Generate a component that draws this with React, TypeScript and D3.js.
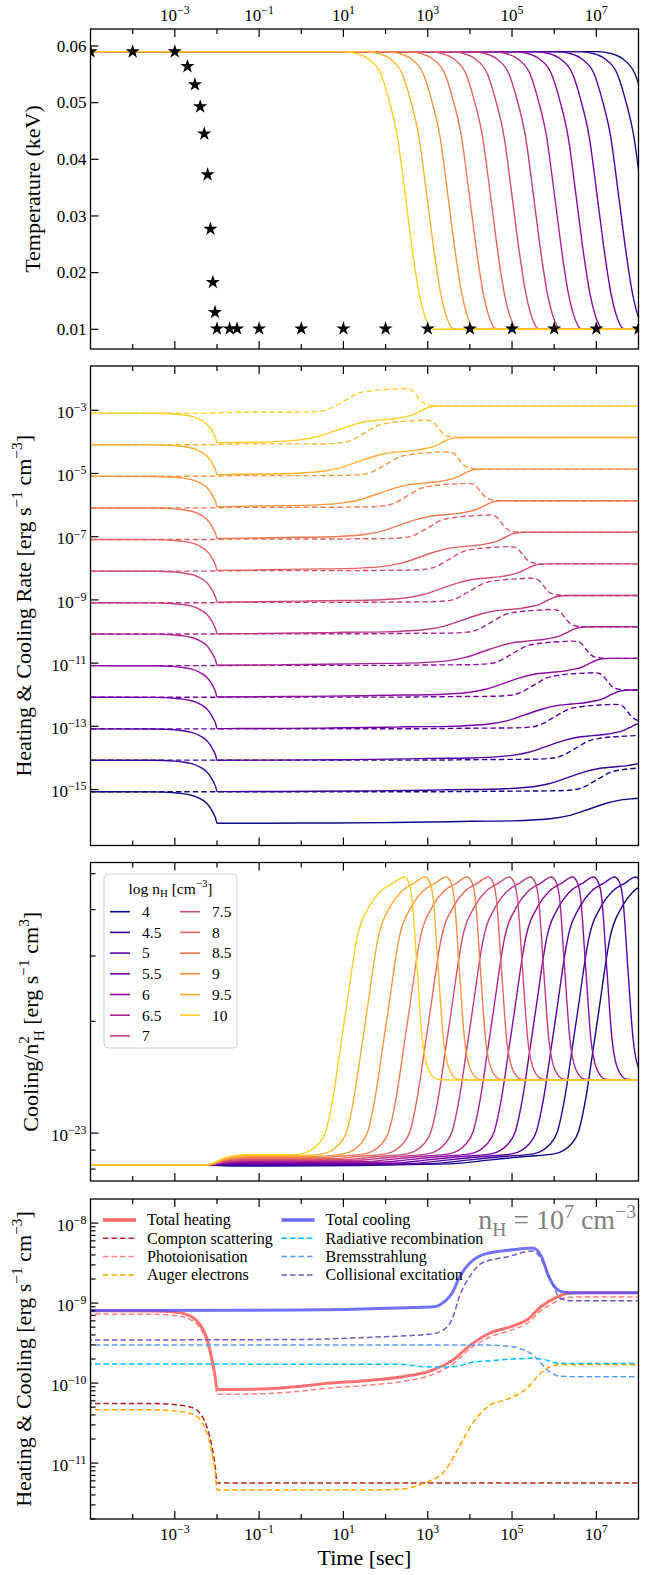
import React from "react";
import * as d3 from "d3";

type Pt = [number, number];

// ---------------- data ----------------
const logNH = [4, 4.5, 5, 5.5, 6, 6.5, 7, 7.5, 8, 8.5, 9, 9.5, 10];
const logNHLabels = ["4", "4.5", "5", "5.5", "6", "6.5", "7", "7.5", "8", "8.5", "9", "9.5", "10"];

// Panel 1: temperature (keV) vs log10 time; curve shape read from the n=10 curve, shifts per density
const tempShift = [6.03, 5.61, 5.06, 4.55, 4.05, 3.54, 3.04, 2.53, 2.02, 1.52, 1.01, 0.51, 0];
const tempTemplate: Pt[] = [
  [-9, 0.059], [1.0, 0.059], [1.3, 0.0587], [1.6, 0.0577], [1.88, 0.0552], [2.08, 0.0505],
  [2.28, 0.044], [2.47, 0.0335], [2.67, 0.0222], [2.8, 0.0162], [2.91, 0.0128], [3.0, 0.011],
  [3.07, 0.0102], [3.2, 0.01], [14, 0.01],
];
const starTime = [1e-5, 1e-4, 1e-3, 2e-3, 3e-3, 4e-3, 5e-3, 6e-3, 7e-3, 8e-3, 9e-3, 1e-2, 2e-2, 3e-2, 1e-1, 1, 10, 100, 1e3, 1e4, 1e5, 1e6, 1e7, 1e8];
const starTemp = [0.059, 0.059, 0.059, 0.0564, 0.0532, 0.0493, 0.0445, 0.0373, 0.0277, 0.0183, 0.013, 0.0101, 0.0101, 0.0101, 0.0101, 0.0101, 0.0101, 0.0101, 0.0101, 0.0101, 0.0101, 0.0101, 0.0101, 0.0101];
const tempTicks = [0.01, 0.02, 0.03, 0.04, 0.05, 0.06];

// Panel 2: heating (solid) & cooling (dashed) rates, log10 values
const rateShift = [6, 5.5, 5, 4.5, 4, 3.5, 3, 2.5, 2, 1.5, 1, 0.5, 0];
const rate0 = [-15.07, -14.07, -13.08, -12.08, -11.08, -10.08, -9.09, -8.09, -7.09, -6.09, -5.09, -4.09, -3.09];
const heatDropShape: Pt[] = [
  [-5.5, 0], [-3.5, -0.004], [-3, -0.03], [-2.8, -0.06], [-2.6, -0.11], [-2.4, -0.22],
  [-2.25, -0.36], [-2.15, -0.53], [-2.08, -0.7], [-2.03, -0.85], [-2, -1],
];
const heatPost: Pt[] = [
  [-9, -1.0], [-6, -0.99], [-4, -0.975], [-2.5, -0.95], [-2, -0.935], [-1, -0.92], [0, -0.84],
  [0.4, -0.74], [0.8, -0.56], [1.2, -0.38], [1.5, -0.28], [1.9, -0.215], [2.2, -0.18], [2.45, -0.12],
  [2.65, -0.05], [2.85, 0.08], [3.0, 0.17], [3.15, 0.215], [3.3, 0.229], [14, 0.229],
];
const rateTickExp = [-15, -13, -11, -9, -7, -5, -3];

// Panel 3: cooling / nH^2, log10 values
const lamPre = -23.086;
const lamStep = [-23.089, -23.0865, -23.084, -23.081, -23.0785, -23.076, -23.0735, -23.071, -23.0685, -23.066, -23.063, -23.0605, -23.058];
const lamStepShape: Pt[] = [[-2.3, 0], [-2.1, 0.15], [-1.95, 0.45], [-1.8, 0.7], [-1.6, 0.88], [-1.3, 1]];
const lamPost: Pt[] = [
  [-9, -23.092], [-2.5, -23.083], [-1.5, -23.072], [-0.7, -23.063], [0, -23.056], [0.4, -23.03],
  [0.58, -22.995], [0.75, -22.906], [0.93, -22.77], [1.06, -22.67], [1.32, -22.476], [1.63, -22.386],
  [1.87, -22.35], [2.2, -22.325], [2.43, -22.31], [2.55, -22.325], [2.63, -22.37], [2.75, -22.56],
  [2.87, -22.745], [3.02, -22.83], [3.22, -22.855], [3.5, -22.857], [14, -22.857],
];

// Panel 4: nH = 1e7 breakdown, [log10 t, log10 rate]
const p4TotalHeating: Pt[] = [[-5.5, -9.094], [-3.5, -9.098], [-3, -9.11], [-2.6, -9.17], [-2.4, -9.27], [-2.25, -9.43], [-2.11, -9.73], [-2.04, -9.93], [-2, -10.08], [-1, -10.075], [0, -10.04], [0.5, -10.01], [1.5, -9.97], [2.4, -9.92], [3.1, -9.84], [3.6, -9.71], [4.0, -9.53], [4.45, -9.38], [5.0, -9.29], [5.35, -9.21], [5.7, -9.04], [6.05, -8.93], [6.3, -8.88], [6.6, -8.87], [8.5, -8.87]];
const p4Compton: Pt[] = [[-5.5, -10.254], [-3.5, -10.256], [-3, -10.27], [-2.6, -10.305], [-2.4, -10.38], [-2.25, -10.53], [-2.11, -10.82], [-2.04, -11.05], [-2, -11.25], [8.5, -11.25]];
const p4Photo: Pt[] = [[-5.5, -9.137], [-3.5, -9.141], [-3, -9.155], [-2.6, -9.215], [-2.4, -9.315], [-2.25, -9.475], [-2.11, -9.775], [-2.04, -9.975], [-2, -10.14], [-1, -10.135], [0, -10.1], [0.5, -10.07], [1.5, -10.03], [2.4, -9.98], [3.1, -9.895], [3.6, -9.76], [4.0, -9.575], [4.45, -9.43], [5.0, -9.335], [5.35, -9.255], [5.7, -9.09], [6.05, -8.98], [6.3, -8.93], [6.6, -8.925], [8.5, -8.925]];
const p4Auger: Pt[] = [[-5.5, -10.333], [-3.5, -10.335], [-3, -10.35], [-2.6, -10.385], [-2.4, -10.46], [-2.25, -10.61], [-2.11, -10.9], [-2.04, -11.13], [-2, -11.335], [1.8, -11.335], [2.4, -11.325], [2.9, -11.253], [3.4, -11.1], [3.7, -10.84], [4.02, -10.54], [4.46, -10.28], [4.9, -10.2], [5.34, -10.07], [5.7, -9.865], [6.05, -9.775], [6.4, -9.77], [8.5, -9.77]];
const p4TotalCooling: Pt[] = [[-5.5, -9.092], [0, -9.088], [2.25, -9.063], [3.2, -9.042], [3.4, -8.98], [3.58, -8.875], [3.75, -8.68], [3.93, -8.54], [4.28, -8.4], [4.9, -8.34], [5.48, -8.31], [5.6, -8.34], [5.7, -8.42], [5.87, -8.67], [6.0, -8.79], [6.14, -8.85], [6.4, -8.87], [8.5, -8.87]];
const p4RadRec: Pt[] = [[-5.5, -9.762], [2.3, -9.765], [2.9, -9.795], [3.3, -9.8], [3.7, -9.79], [4.0, -9.745], [4.5, -9.72], [5.5, -9.69], [5.8, -9.71], [6.05, -9.75], [6.5, -9.755], [8.5, -9.755]];
const p4Brems: Pt[] = [[-5.5, -9.525], [4.4, -9.525], [4.8, -9.535], [5.1, -9.555], [5.5, -9.65], [5.87, -9.85], [6.14, -9.915], [6.5, -9.92], [8.5, -9.92]];
const p4Collis: Pt[] = [[-5.5, -9.462], [0, -9.455], [1.5, -9.43], [3.1, -9.385], [3.4, -9.325], [3.58, -9.2], [3.75, -8.92], [4.02, -8.65], [4.28, -8.5], [4.9, -8.42], [5.48, -8.35], [5.6, -8.38], [5.7, -8.46], [5.92, -8.71], [6.14, -8.94], [6.4, -8.97], [8.5, -8.97]];
const p4Labels = ["Total heating", "Compton scattering", "Photoionisation", "Auger electrons", "Total cooling", "Radiative recombination", "Bremsstrahlung", "Collisional excitation"];
const p4Colors = ["#ff4d4d", "#b22222", "#ff8080", "#ffa500", "#5050ff", "#00bfff", "#5b9bf0", "#6a5acd"];

// ---------------- layout ----------------
const W = 665, H = 1575;
const X0 = 90.5, X1 = 638.5;
const P1 = { top: 29, bot: 349 };
const P2 = { top: 366, bot: 845.5 };
const P3 = { top: 862.5, bot: 1181 };
const P4 = { top: 1199, bot: 1519 };
const FONT = '"Liberation Serif", "DejaVu Serif", "Times New Roman", serif';
const TICK_FS = 17;
const LABEL_FS = 22;

const xS = d3.scaleLog().domain([1e-5, 1e8]).range([X0, X1]);
const y1 = d3.scaleLinear().domain([0.00652, 0.063]).range([P1.bot, P1.top]);
const y2 = d3.scaleLog().domain([Math.pow(10, -16.77), Math.pow(10, -1.6)]).range([P2.bot, P2.top]);
const y3 = d3.scaleLog().domain([Math.pow(10, -23.129), Math.pow(10, -22.271)]).range([P3.bot, P3.top]);
const y4 = d3.scaleLog().domain([2e-12, 2e-8]).range([P4.bot, P4.top]);

const colors = logNH.map((_, i) => d3.interpolatePlasma(i * 0.075));

function interp(tpl: Pt[], xv: number): number {
  if (xv <= tpl[0][0]) return tpl[0][1];
  for (let i = 1; i < tpl.length; i++) {
    if (xv <= tpl[i][0]) {
      const [xa, ya] = tpl[i - 1];
      const [xb, yb] = tpl[i];
      return ya + ((yb - ya) * (xv - xa)) / (xb - xa);
    }
  }
  return tpl[tpl.length - 1][1];
}

function heatNodes(i: number): Pt[] {
  const s = rateShift[i];
  const endRel = interp(heatPost, -2 - s);
  const nodes: Pt[] = heatDropShape.map(([t, r]) => [t, rate0[i] + r * -endRel] as Pt);
  for (const [tau, r] of heatPost) if (tau + s > -2) nodes.push([tau + s, rate0[i] + r]);
  return nodes;
}

function lamNodes(i: number): Pt[] {
  const s = rateShift[i];
  const post = lamStep[i];
  const nodes: Pt[] = [[-6, lamPre]];
  for (const [t, f] of lamStepShape) nodes.push([t, lamPre + (post - lamPre) * f]);
  const tEnd = lamStepShape[lamStepShape.length - 1][0];
  let prev: Pt | null = null;
  let crossed = false;
  for (const [tau, v] of lamPost) {
    const t = tau + s;
    if (!crossed) {
      if (v > post) {
        crossed = true;
        if (prev) {
          const tc = prev[0] + ((post - prev[1]) / (v - prev[1])) * (t - prev[0]);
          if (tc > tEnd) nodes.push([tc, post]);
        }
        if (t > tEnd) nodes.push([t, v]);
      }
      prev = [t, v];
    } else if (t > tEnd) nodes.push([t, v]);
  }
  return nodes;
}

const linLine = (ys: (v: number) => number) =>
  d3.line<Pt>().x((d) => xS(Math.pow(10, d[0]))).y((d) => ys(d[1])).curve(d3.curveMonotoneX);
const logLine = (ys: d3.ScaleLogarithmic<number, number>) =>
  d3.line<Pt>().x((d) => xS(Math.pow(10, d[0]))).y((d) => ys(Math.pow(10, d[1]))).curve(d3.curveMonotoneX);

// ---------------- text helpers ----------------
type Seg = { t: string; k?: "sup" | "sub"; dx?: number };
function mathSpans(segs: Seg[], fs: number) {
  const off = (m: string) => (m === "sup" ? -0.4 * fs : m === "sub" ? 0.25 * fs : 0);
  let cur = "base";
  return segs.map((s, i) => {
    const target = s.k ?? "base";
    const dy = off(target) - off(cur);
    cur = target;
    return (
      <tspan key={i} dy={dy !== 0 ? dy : undefined} dx={s.dx} fontSize={target === "base" ? fs : fs * 0.7}>
        {s.t}
      </tspan>
    );
  });
}
const pow10 = (e: number): Seg[] => [{ t: "10" }, { t: e < 0 ? "\u2212" + Math.abs(e) : String(e), k: "sup" }];

function XTicks({ p }: { p: { top: number; bot: number } }) {
  const exps = d3.range(-4, 8);
  return (
    <g stroke="#000" strokeWidth={1.2}>
      {exps.map((e) => {
        const xx = xS(Math.pow(10, e));
        const len = e % 2 !== 0 ? 8 : 5;
        return (
          <g key={e}>
            <line x1={xx} x2={xx} y1={p.bot} y2={p.bot - len} />
            <line x1={xx} x2={xx} y1={p.top} y2={p.top + len} />
          </g>
        );
      })}
    </g>
  );
}

function XLabels({ y }: { y: number }) {
  const exps = [-3, -1, 1, 3, 5, 7];
  return (
    <g fontSize={TICK_FS}>
      {exps.map((e) => (
        <text key={e} x={xS(Math.pow(10, e))} y={y} textAnchor="middle">
          {mathSpans(pow10(e), TICK_FS)}
        </text>
      ))}
    </g>
  );
}

function Frame({ p }: { p: { top: number; bot: number } }) {
  return <rect x={X0} y={p.top} width={X1 - X0} height={p.bot - p.top} fill="none" stroke="#000" strokeWidth={1.3} />;
}

function YLabel({ cx, cy, segs }: { cx: number; cy: number; segs: Seg[] }) {
  return (
    <text transform={`translate(${cx},${cy}) rotate(-90)`} y={0.33 * LABEL_FS} textAnchor="middle" fontSize={LABEL_FS}>
      {mathSpans(segs, LABEL_FS)}
    </text>
  );
}

function YTick({ y, len, label, exp }: { y: number; len: number; label?: string; exp?: number }) {
  return (
    <g>
      <line x1={X0} x2={X0 + len} y1={y} y2={y} stroke="#000" strokeWidth={1.2} />
      {label !== undefined && (
        <text x={X0 - 4} y={y + 0.33 * TICK_FS} textAnchor="end" fontSize={TICK_FS}>
          {label}
        </text>
      )}
      {exp !== undefined && (
        <text x={X0 - 4} y={y + 0.45 * TICK_FS} textAnchor="end" fontSize={TICK_FS}>
          {mathSpans(pow10(exp), TICK_FS)}
        </text>
      )}
    </g>
  );
}

export default function App() {
  React.useEffect(() => {
    document.body.style.margin = "0";
  }, []);

  const star = d3.symbol(d3.symbolStar, 63)() as string;
  const l1 = linLine(y1);
  const l2 = logLine(y2);
  const l3 = logLine(y3);
  const l4 = logLine(y4);

  const p4Series = [p4TotalHeating, p4Compton, p4Photo, p4Auger, p4TotalCooling, p4RadRec, p4Brems, p4Collis];

  const p4Minor: number[] = [];
  for (let m = -12; m <= -9; m++) for (let k = 2; k <= 9; k++) {
    const v = k * Math.pow(10, m);
    if (v >= 2e-12 && v <= 2e-8) p4Minor.push(v);
  }
  const p3Minor = [8e-24, 9e-24, 2e-23, 3e-23, 4e-23, 5e-23];

  return (
    <svg width={W} height={H} style={{ display: "block", position: "absolute", left: 0, top: 0, fontFamily: FONT }}>
      <style>{`text, tspan { font-family: ${FONT}; }`}</style>
      <rect width={W} height={H} fill="#fff" />
      <defs>
        {[P1, P2, P3, P4].map((p, i) => (
          <clipPath id={`clip${i}`} key={i}>
            <rect x={X0} y={p.top} width={X1 - X0} height={p.bot - p.top} />
          </clipPath>
        ))}
      </defs>

      {/* ---------- Panel 1 ---------- */}
      <g clipPath="url(#clip0)">
        {logNH.map((_, i) => (
          <path key={i} d={l1(tempTemplate.map(([t, v]) => [t + tempShift[i], v] as Pt)) as string} fill="none" stroke={colors[i]} strokeWidth={1.4} />
        ))}
        {starTime.map((t, i) => (
          <path key={i} d={star} transform={`translate(${xS(t)},${y1(starTemp[i])})`} fill="#000" />
        ))}
      </g>
      <XTicks p={P1} />
      {tempTicks.map((v) => (
        <YTick key={v} y={y1(v)} len={8} label={v.toFixed(2)} />
      ))}
      <Frame p={P1} />
      <XLabels y={20.5} />
      <YLabel cx={33} cy={(P1.top + P1.bot) / 2} segs={[{ t: "Temperature (keV)" }]} />

      {/* ---------- Panel 2 ---------- */}
      <g clipPath="url(#clip1)">
        {logNH.map((_, i) => (
          <g key={i} stroke={colors[i]} fill="none" strokeWidth={1.4}>
            <path d={l2(heatNodes(i)) as string} />
            <path d={l2(lamNodes(i).map(([t, v]) => [t, rate0[i] + v - lamPre] as Pt)) as string} strokeDasharray="5.5,3" />
          </g>
        ))}
      </g>
      <XTicks p={P2} />
      {rateTickExp.map((e) => (
        <YTick key={e} y={y2(Math.pow(10, e))} len={8} exp={e} />
      ))}
      <Frame p={P2} />
      <YLabel
        cx={24}
        cy={(P2.top + P2.bot) / 2}
        segs={[{ t: "Heating & Cooling Rate [erg s" }, { t: "\u22121", k: "sup" }, { t: " cm" }, { t: "\u22123", k: "sup" }, { t: "]" }]}
      />

      {/* ---------- Panel 3 ---------- */}
      <g clipPath="url(#clip2)">
        {logNH.map((_, i) => (
          <path key={i} d={l3(lamNodes(i)) as string} fill="none" stroke={colors[i]} strokeWidth={1.4} />
        ))}
      </g>
      <XTicks p={P3} />
      <YTick y={y3(1e-23)} len={8} exp={-23} />
      {p3Minor.map((v) => (
        <YTick key={v} y={y3(v)} len={5} />
      ))}
      <Frame p={P3} />
      <YLabel
        cx={31}
        cy={(P3.top + P3.bot) / 2}
        segs={[{ t: "Cooling/n" }, { t: "2", k: "sup" }, { t: "H", k: "sub", dx: -0.35 * LABEL_FS * 0.7 }, { t: "  [erg s" }, { t: "\u22121", k: "sup" }, { t: " cm" }, { t: "3", k: "sup" }, { t: "]" }]}
      />
      <g>
        <rect x={104} y={874} width={133} height={174} rx={4} fill="#fff" fillOpacity={0.85} stroke="#d0d0d0" strokeWidth={1} />
        <text x={170.5} y={893.5} textAnchor="middle" fontSize={15.5}>
          {mathSpans([{ t: "log n" }, { t: "H", k: "sub" }, { t: " [cm" }, { t: "\u22123", k: "sup" }, { t: "]" }], 15.5)}
        </text>
        {logNH.map((_, i) => {
          const col = i < 7 ? 0 : 1;
          const row = i < 7 ? i : i - 7;
          const yy = 911.7 + row * 20.7;
          const hx = col === 0 ? 110 : 180;
          return (
            <g key={i}>
              <line x1={hx} x2={hx + 20} y1={yy} y2={yy} stroke={colors[i]} strokeWidth={1.6} />
              <text x={hx + 32} y={yy + 5.3} fontSize={15.5}>
                {logNHLabels[i]}
              </text>
            </g>
          );
        })}
      </g>

      {/* ---------- Panel 4 ---------- */}
      <g clipPath="url(#clip3)">
        {p4Series.map((s, i) => {
          const total = i === 0 || i === 4;
          return (
            <path
              key={i}
              d={l4(s) as string}
              fill="none"
              stroke={p4Colors[i]}
              strokeWidth={total ? 3 : 1.5}
              strokeOpacity={total ? 0.8 : 1}
              strokeDasharray={total ? undefined : "5.5,3"}
            />
          );
        })}
      </g>
      <XTicks p={P4} />
      {[-8, -9, -10, -11].map((e) => (
        <YTick key={e} y={y4(Math.pow(10, e))} len={8} exp={e} />
      ))}
      {p4Minor.map((v) => (
        <YTick key={v} y={y4(v)} len={5} />
      ))}
      <Frame p={P4} />
      <XLabels y={1540} />
      <text x={(X0 + X1) / 2} y={1565} textAnchor="middle" fontSize={LABEL_FS}>
        Time [sec]
      </text>
      <YLabel
        cx={24}
        cy={(P4.top + P4.bot) / 2}
        segs={[{ t: "Heating & Cooling [erg s" }, { t: "\u22121", k: "sup" }, { t: " cm" }, { t: "\u22123", k: "sup" }, { t: "]" }]}
      />
      <g>
        {p4Labels.map((lab, i) => {
          const col = i < 4 ? 0 : 1;
          const row = i % 4;
          const yy = 1220 + row * 18.3;
          const hx = col === 0 ? 103 : 281.5;
          const total = row === 0;
          return (
            <g key={i}>
              <line
                x1={hx}
                x2={hx + 33}
                y1={yy}
                y2={yy}
                stroke={p4Colors[i]}
                strokeWidth={total ? 3.5 : 1.5}
                strokeOpacity={total ? 0.85 : 1}
                strokeDasharray={total ? undefined : "5.5,3"}
              />
              <text x={hx + 44} y={yy + 5.3} fontSize={16}>
                {lab}
              </text>
            </g>
          );
        })}
      </g>
      <text x={636} y={1229} textAnchor="end" fontSize={28} fill="#808080">
        {mathSpans([{ t: "n" }, { t: "H", k: "sub" }, { t: " = 10" }, { t: "7", k: "sup" }, { t: " cm" }, { t: "\u22123", k: "sup" }], 28)}
      </text>
    </svg>
  );
}
